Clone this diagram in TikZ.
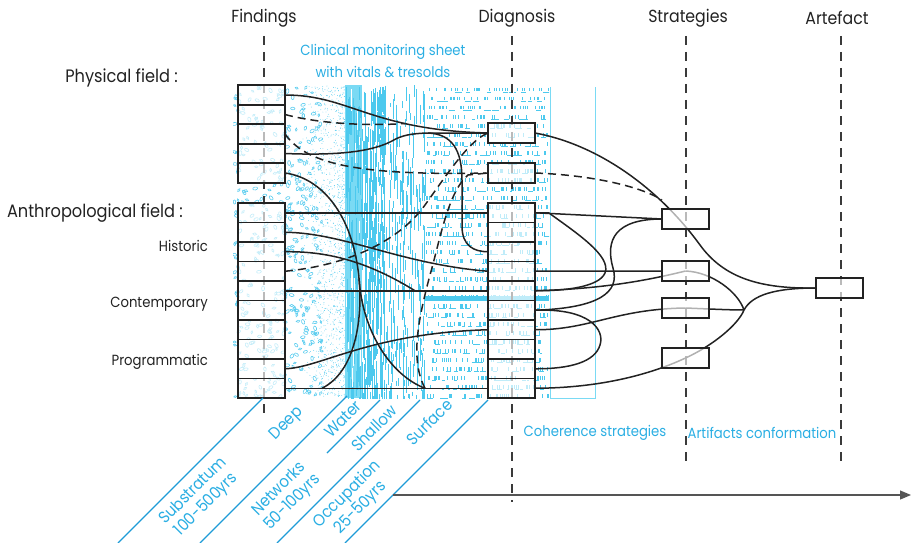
\documentclass[tikz,border=0pt]{standalone}
\usepackage{fontspec}
\setmainfont{Poppins}[FakeStretch=0.9]
\usetikzlibrary{arrows.meta}
\definecolor{ink}{HTML}{222222}
\definecolor{axisgray}{HTML}{3A3A3A}
\definecolor{sheet}{HTML}{4CC9EE}
\definecolor{pebble}{HTML}{5CCDEF}
\definecolor{sheetlite}{HTML}{7ADAF4}
\definecolor{labelblue}{HTML}{2AAEE3}
\definecolor{layerline}{HTML}{1E9BD7}
\definecolor{flowgray}{HTML}{555555}
\begin{document}
\begin{tikzpicture}[x=1pt,y=-1pt,
  cell/.style={minimum width=47pt, minimum height=19.5pt, inner sep=0pt, outer sep=0pt},
  link/.style={draw=ink, line width=1.5pt},
  dlink/.style={link, dash pattern=on 8pt off 5pt},
  axisline/.style={draw=axisgray, line width=1.2pt, dash pattern=on 9pt off 7pt},
  hdr/.style={text=ink, font=\fontsize{17.5}{20}\selectfont, inner sep=0pt},
  fld/.style={text=ink, font=\fontsize{18}{20}\selectfont, inner sep=0pt},
  subfld/.style={text=ink, font=\fontsize{14.7}{16}\selectfont, inner sep=0pt},
  bluetxt/.style={text=labelblue, font=\fontsize{14.7}{18}\selectfont, inner sep=0pt},
  layertxt/.style={text=labelblue, font=\fontsize{16.5}{19}\selectfont, inner sep=0pt, rotate=45, align=center},
  layer/.style={draw=layerline, line width=1.4pt},
  sheetedge/.style={draw=sheetlite, line width=0.8pt}
]
\useasboundingbox (0,0) rectangle (911,543);

% ---------------- monitoring sheet texture ----------------
\begin{scope}
  \clip (233,85) rectangle (549,398);
  \pgfmathsetseed{42}
  % deep layer: pebbles
  \foreach \i in {1,...,480}{
    \pgfmathsetmacro\px{234+88*rnd}
    \pgfmathsetmacro\py{86+311*rnd}
    \pgfmathsetmacro\an{180*rnd}
    \pgfmathsetmacro\ra{1.4+1.1*rnd}
    \pgfmathsetmacro\rb{0.6*\ra}
    \draw[pebble, line width=0.6pt, rotate around={\an:(\px,\py)}] (\px,\py) ellipse (\ra pt and \rb pt);
  }
  % stipple towards the water
  \fill[sheet] foreach \i in {1,...,1400}{ ({302+45*sqrt(rnd)},{86+311*rnd}) circle[radius=0.4pt] };
  % water band
  \fill[sheetlite] (345,85) rectangle (362,398);
  \draw[sheet, line width=1.2pt] foreach \i in {1,...,90}{ ({345+17*rnd},{85+313*rnd}) -- ++(0,{8+40*rnd}) };
  \draw[white, line width=0.6pt] foreach \i in {1,...,25}{ ({346+15*rnd},{85+313*rnd}) -- ++(0,{4+20*rnd}) };
  \draw[sheet, line width=0.9pt] foreach \i in {1,...,320}{ ({362+23*rnd},{85+313*rnd}) -- ++(0,{4+34*rnd}) };
  % shallow layer
  \draw[sheet, line width=0.6pt] foreach \i in {1,...,220}{ ({385+40*rnd},{85+313*rnd}) -- ++(0,{3+26*rnd}) };
  % surface layer: rows of ticks and dashes
  \foreach \r in {0,...,34}{
    \draw[sheet, line width=0.7pt] foreach \k in {1,...,34}{ ({426+122*rnd},{88+9*\r}) -- ++(0,3.5) };
    \draw[sheet, line width=0.7pt] foreach \k in {1,...,11}{ ({426+118*rnd},{92.5+9*\r}) -- ++({2+5*rnd},0) };
  }
  \fill[sheet] (425,296) rectangle (549,301);
\end{scope}
\draw[sheetedge] (550,87) -- (550,398) -- (595,398) -- (595,87);

% ---------------- axes ----------------
\coordinate (fT) at (264,36);  \coordinate (fB) at (264,420);
\coordinate (dT) at (512,36);  \coordinate (dB) at (512,502);
\coordinate (sT) at (686,36);  \coordinate (sB) at (686,468);
\coordinate (aT) at (841,36);  \coordinate (aB) at (841,468);
\draw[axisline] (fT) -- (fB);
\draw[axisline] (dT) -- (dB);
\draw[axisline] (sT) -- (sB);
\draw[axisline] (aT) -- (aB);

% ---------------- box placement ----------------
\node[cell] (P1) at (261.5,95) {};
\node[cell] (P2) at (261.5,114.5) {};
\node[cell] (P3) at (261.5,134) {};
\node[cell] (P4) at (261.5,153.5) {};
\node[cell] (P5) at (261.5,173) {};
\foreach \k in {1,...,10}{
  \node[cell] (A\k) at (261.5,{203+19.5*(\k-0.5)}) {};
  \node[cell] (Ds\k) at (511.5,{203+19.5*(\k-0.5)}) {};
}
\node[cell, minimum height=20pt] (D1) at (511.5,133) {};
\node[cell, minimum height=20pt] (D2) at (511.5,173) {};
\node[cell, minimum height=20pt] (S1) at (685.5,219) {};
\node[cell, minimum height=20pt] (S2) at (685.5,271) {};
\node[cell, minimum height=20pt] (S3) at (685.5,308) {};
\node[cell, minimum height=20pt] (S4) at (685.5,358) {};
\node[cell, minimum height=20pt] (Art) at (839.5,288) {};

% junctions
\coordinate (ab) at (405,123.5);
\coordinate (de) at (428,133);
\coordinate (hs) at (359,278);
\coordinate (h0) at (322,388.25);
\coordinate (g0) at (425,388.25);
\coordinate (j0) at (415,290.75);
\coordinate (dm) at (662,200);
\coordinate (mg) at (744,310);

% ---------------- findings -> diagnosis ----------------
\draw[link] (P1.east) .. controls (350,95) and (370,130) .. (D1.west);
\draw[dlink] (P2.east) .. controls (320,124) and (370,126) .. (ab);
\draw[dlink] (P3.east) .. controls (305,162) and (350,176) .. (D2.west);
\draw[link] (P4.east) .. controls (345,156) and (375,150) .. (392,141) .. controls (402,135) and (412,133.5) .. (de) .. controls (450,133) and (470,133) .. (D1.west);
\draw[link] (de) .. controls (452,134) and (462,150) .. (462,180) -- (462,226) .. controls (462,246) and (474,251.75) .. (Ds3.west);
\draw[dlink] (A4.east) .. controls (350,265) and (400,240) .. (425,205) .. controls (450,170) and (470,140) .. (D1.west);
\draw[dlink] (g0) .. controls (410,360) and (418,320) .. (430,275) .. controls (440,240) and (448,192) .. (468,175) -- (D2.west);
\draw[link] (P5.east) .. controls (322,178) and (353,215) .. (hs);
\draw[link] (hs) .. controls (363,320) and (355,372) .. (h0);
\draw[link] (hs) .. controls (362,330) and (390,375) .. (g0);
\draw[link] (A3.east) .. controls (330,251) and (370,263) .. (j0);
\draw[link] (A5.east) -- (Ds5.west);
\draw[link] (A2.east) .. controls (345,233) and (400,264) .. (Ds4.west);
\draw[link] (A1.east) -- (Ds1.west);
\draw[link] (A9.east) .. controls (320,368) and (370,333) .. (Ds7.west);
\draw[link] (A10.east) -- (Ds10.west);

% ---------------- diagnosis -> strategies -> artefact ----------------
\draw[link] (D1.east) .. controls (600,145) and (660,190) .. (700,245) .. controls (724,278) and (760,289) .. (Art.west);
\draw[dlink] (D2.east) .. controls (590,175) and (640,186) .. (dm);
\draw[link] (Ds1.east) -- (S1.west);
\draw[link] (Ds1.east) -- (549,213) .. controls (575,232) and (612,256) .. (605,273) .. controls (599,287) and (565,291) .. (Ds5.east);
\draw[link] (S1.west) .. controls (615,219) and (605,240) .. (613,268) .. controls (620,292) and (600,308) .. (Ds6.east);
\draw[link] (Ds4.east) -- (S2.west);
\draw[link] (Ds5.east) .. controls (600,289) and (645,281) .. (S2.center);
\draw[link] (Ds6.east) .. controls (590,308) and (605,330) .. (600,345) .. controls (595,362) and (570,369) .. (Ds9.east);
\draw[link] (Ds7.east) .. controls (590,330) and (615,309) .. (S3.center);
\draw[link] (Ds10.east) .. controls (610,388) and (660,370) .. (S4.center) .. controls (712,346) and (738,325) .. (mg);
\draw[link] (S2.center) .. controls (712,272) and (738,292) .. (mg);
\draw[link] (S3.center) .. controls (710,309) and (730,310) .. (mg);
\draw[link] (mg) .. controls (752,295) and (775,288) .. (Art.west);

% ---------------- boxes: veils first, then outlines ----------------
\foreach \n in {P1,P2,P3,P4,P5,A1,A2,A3,A4,A5,A6,A7,A8,A9,A10,Ds1,Ds2,Ds3,Ds4,Ds5,Ds6,Ds7,Ds8,Ds9,Ds10,D1,D2,S1,S2,S3,S4,Art}{
  \fill[white, fill opacity=0.65] (\n.north west) rectangle (\n.south east);
}
\foreach \n in {P1,P2,P3,P4,P5,A1,A2,A3,A4,A5,A6,A7,A8,A9,A10,Ds1,Ds2,Ds3,Ds4,Ds5,Ds6,Ds7,Ds8,Ds9,Ds10,D1,D2,S1,S2,S3,S4,Art}{
  \draw[ink, line width=1.7pt] (\n.north west) rectangle (\n.south east);
}

% ---------------- layer guides ----------------
\coordinate (l1a) at (118,543); \coordinate (l1b) at (263,398);
\coordinate (l2a) at (200,543); \coordinate (l2b) at (347,396);
\coordinate (l3a) at (327,453); \coordinate (l3b) at (380,400);
\coordinate (l4a) at (277,543); \coordinate (l4b) at (420,400);
\coordinate (l5a) at (345,543); \coordinate (l5b) at (488,400);
\draw[layer] (l1a) -- (l1b);
\draw[layer] (l2a) -- (l2b);
\draw[layer] (l3a) -- (l3b);
\draw[layer] (l4a) -- (l4b);
\draw[layer] (l5a) -- (l5b);
\node[layertxt] (deep) at (287,424) {Deep};
\node[layertxt] (water) at (343,419) {Water};
\node[layertxt] (shallow) at (374,428) {Shallow};
\node[layertxt] (surface) at (429,422) {Surface};
\node[layertxt] (subs) at (200,498) {Substratum\\100-500yrs};
\node[layertxt] (netw) at (286,496) {Networks\\50-100yrs};
\node[layertxt] (occu) at (354,501) {Occupation\\25-50yrs};

% ---------------- time arrow ----------------
\coordinate (ta) at (393,495);
\coordinate (tb) at (911,495);
\draw[flowgray, line width=1.2pt, -{Triangle[length=11pt,width=9pt]}] (ta) -- (tb);

% ---------------- headings and labels ----------------
\node[hdr] (hF) at (264,18) {Findings};
\node[hdr] (hD) at (517,18) {Diagnosis};
\node[hdr] (hS) at (688,18) {Strategies};
\node[hdr] (hA) at (837,18) {Artefact};
\node[fld, anchor=east] (pf) at (178,78) {Physical field :};
\node[fld, anchor=east] (af) at (183,213) {Anthropological field :};
\node[subfld, anchor=east] (hi) at (208,246) {Historic};
\node[subfld, anchor=east] (co) at (208,304) {Contemporary};
\node[subfld, anchor=east] (pr) at (208,362) {Programmatic};
\node[bluetxt] (cm1) at (383,52) {Clinical monitoring sheet};
\node[bluetxt] (cm2) at (383,72) {with vitals \& tresolds};
\node[bluetxt] (coh) at (595,433) {Coherence strategies};
\node[bluetxt] (arc) at (762,433) {Artifacts conformation};
\end{tikzpicture}
\end{document}
